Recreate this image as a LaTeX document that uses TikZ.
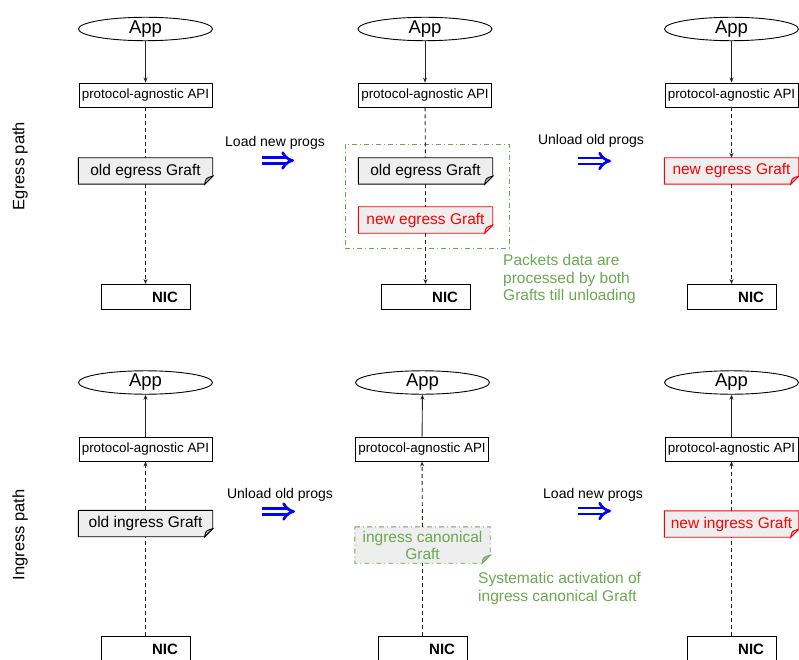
\documentclass[tikz,border=0pt]{standalone}
\usepackage{fontspec}
\setmainfont{Liberation Sans}
\usetikzlibrary{shapes.geometric,arrows.meta,backgrounds}

\definecolor{notegreen}{RGB}{106,168,79}
\definecolor{graftfill}{RGB}{238,238,238}
\definecolor{foldfill}{RGB}{185,185,185}
\definecolor{wire}{RGB}{35,35,35}

\tikzset{
  app/.style={ellipse, draw=black, line width=0.9pt, minimum width=134pt, minimum height=22pt,
    inner sep=0pt, font=\fontsize{18.5}{20}\selectfont},
  api/.style={rectangle, draw=black, line width=0.9pt, minimum width=133pt, minimum height=24pt,
    inner sep=0pt, font=\fontsize{13.4}{15}\selectfont},
  nic/.style={rectangle, draw=black, line width=1pt, minimum height=25pt, inner xsep=12pt,
    inner ysep=0pt, text width=65pt, align=right, font=\fontsize{15}{17}\bfseries},
  graft/.style={rectangle, minimum width=134pt, minimum height=26pt, inner sep=0pt,
    font=\fontsize{15.5}{18}\selectfont},
  oldnote/.style={draw=black, fill=graftfill, line width=0.9pt},
  newnote/.style={draw=red, fill=graftfill, line width=0.9pt},
  canonnote/.style={draw=notegreen, fill=graftfill, line width=0.9pt,
    dash pattern=on 5pt off 3pt on 1pt off 3pt},
  groupbox/.style={rectangle, draw=notegreen, line width=0.9pt, inner sep=0pt,
    dash pattern=on 5pt off 3pt on 1pt off 3pt},
  call/.style={draw=wire, line width=0.9pt},
  flow/.style={draw=wire, line width=0.9pt, dash pattern=on 4pt off 3pt},
  tip/.style={-{Stealth[length=5pt,width=4pt]}},
  swap/.style={draw=blue, line width=2.7pt, double=white, double distance=3.2pt,
    -{Implies}},
  step label/.style={font=\fontsize{14}{16}\selectfont},
  remark/.style={text=notegreen, align=left, inner sep=0pt, font=\fontsize{15.5}{17.5}\selectfont},
  side/.style={rotate=90, font=\fontsize{16.5}{18}\selectfont}
}

% outline of a graft: a card with its lower right corner folded
\newcommand\foldcard[2]{%
  \draw[#2] (#1.north west) -- (#1.north east) -- ([yshift=8pt]#1.south east)
    -- ([xshift=-8pt]#1.south east) -- (#1.south west) -- cycle;
  \draw[#2, fill=foldfill, solid] ([yshift=8pt]#1.south east) -- ([xshift=-8pt]#1.south east)
    .. controls ([xshift=-7pt,yshift=6pt]#1.south east) .. ([yshift=8pt]#1.south east) -- cycle;
}

\begin{document}
\begin{tikzpicture}[x=1pt, y=-1pt]
\useasboundingbox (0,0) rectangle (799,660);

% side titles
\node[side] (egtitle) at (20,166) {Egress path};
\node[side] (ingtitle) at (20,535) {Ingress path};

% ---------------- egress path ----------------
% before the update
\node[app] (eapp1) at (145.5,29) {App};
\node[api] (eapi1) at (145.5,95) {protocol-agnostic API};
\node[graft] (eold1) at (145.5,171) {old egress Graft};
\node[nic] (enic1) at (145.5,297) {NIC};

% both grafts loaded
\node[app] (eapp2) at (425,29) {App};
\node[api] (eapi2) at (425,95) {protocol-agnostic API};
\node[groupbox, minimum width=164pt, minimum height=104pt] (egroup) at (427,196) {};
\node[graft] (eold2) at (425.5,171) {old egress Graft};
\node[graft, text=red] (enew2) at (425.5,220) {new egress Graft};
\node[nic] (enic2) at (425.5,297) {NIC};

% after the update
\node[app] (eapp3) at (731.5,29) {App};
\node[api] (eapi3) at (731.5,95) {protocol-agnostic API};
\node[graft, text=red] (enew3) at (731.5,171) {new egress Graft};
\node[nic] (enic3) at (731.5,297) {NIC};

\draw[call, tip] (eapp1) -- (eapi1);
\draw[flow] (eapi1) -- (eold1);
\draw[flow, tip] (eold1) -- (enic1);

\draw[call, tip] (eapp2) -- (eapi2);
\draw[flow] (eapi2) -- (eold2);
\draw[flow] (eold2) -- (enew2);
\draw[flow, tip] (enew2) -- (enic2);

\draw[call, tip] (eapp3) -- (eapi3);
\draw[flow, tip] (eapi3) -- (enew3);
\draw[flow, tip] (enew3) -- (enic3);

\node[step label] (eload) at (275,143) {Load new progs};
\coordinate (eloadA) at (262,160.5);
\coordinate (eloadB) at (294,160.5);
\draw[swap] (eloadA) -- (eloadB);

\node[step label] (eunload) at (591,141) {Unload old progs};
\coordinate (eunloadA) at (578,161);
\coordinate (eunloadB) at (611,161);
\draw[swap] (eunloadA) -- (eunloadB);

\node[remark, anchor=west] (eremark) at (503,279)
  {Packets data are\\processed by both\\Grafts till unloading};

% ---------------- ingress path ----------------
% before the update
\node[app] (iapp1) at (145.5,382.5) {App};
\node[api] (iapi1) at (145.5,449) {protocol-agnostic API};
\node[graft] (iold1) at (145.5,523.5) {old ingress Graft};
\node[nic] (inic1) at (145.5,649) {NIC};

% canonical graft only
\node[app] (iapp2) at (422.5,382.5) {App};
\node[api] (iapi2) at (422,449) {protocol-agnostic API};
\node[graft, minimum width=135pt, minimum height=36pt, text=notegreen, align=center,
  font=\fontsize{15.5}{17}\selectfont] (icanon2) at (422.5,545) {ingress canonical\\Graft};
\node[nic] (inic2) at (422.5,649) {NIC};

% after the update
\node[app] (iapp3) at (731.5,382.5) {App};
\node[api] (iapi3) at (731.5,449) {protocol-agnostic API};
\node[graft, text=red] (inew3) at (731.5,524) {new ingress Graft};
\node[nic] (inic3) at (731.5,649) {NIC};

\draw[call, tip] (iapi1) -- (iapp1);
\draw[flow, tip] (iold1) -- (iapi1);
\draw[flow] (inic1) -- (iold1);

\draw[call, tip] (iapi2) -- (iapp2);
\draw[flow, tip] (icanon2) -- (iapi2);
\draw[flow] (inic2) -- (icanon2);

\draw[call, tip] (iapi3) -- (iapp3);
\draw[flow, tip] (inew3) -- (iapi3);
\draw[flow] (inic3) -- (inew3);

\node[step label] (iunload) at (280,495) {Unload old progs};
\coordinate (iunloadA) at (262,511.5);
\coordinate (iunloadB) at (295,511.5);
\draw[swap] (iunloadA) -- (iunloadB);

\node[step label] (iload) at (593,495) {Load new progs};
\coordinate (iloadA) at (578,511);
\coordinate (iloadB) at (611,511);
\draw[swap] (iloadA) -- (iloadB);

\node[remark, anchor=west] (iremark) at (478,588.5)
  {Systematic activation of\\ingress canonical Graft};

% graft cards, drawn beneath their labels
\begin{scope}[on background layer]
  \foldcard{eold1}{oldnote}
  \foldcard{eold2}{oldnote}
  \foldcard{enew2}{newnote}
  \foldcard{enew3}{newnote}
  \foldcard{iold1}{oldnote}
  \foldcard{icanon2}{canonnote}
  \foldcard{inew3}{newnote}
\end{scope}
\end{tikzpicture}
\end{document}
